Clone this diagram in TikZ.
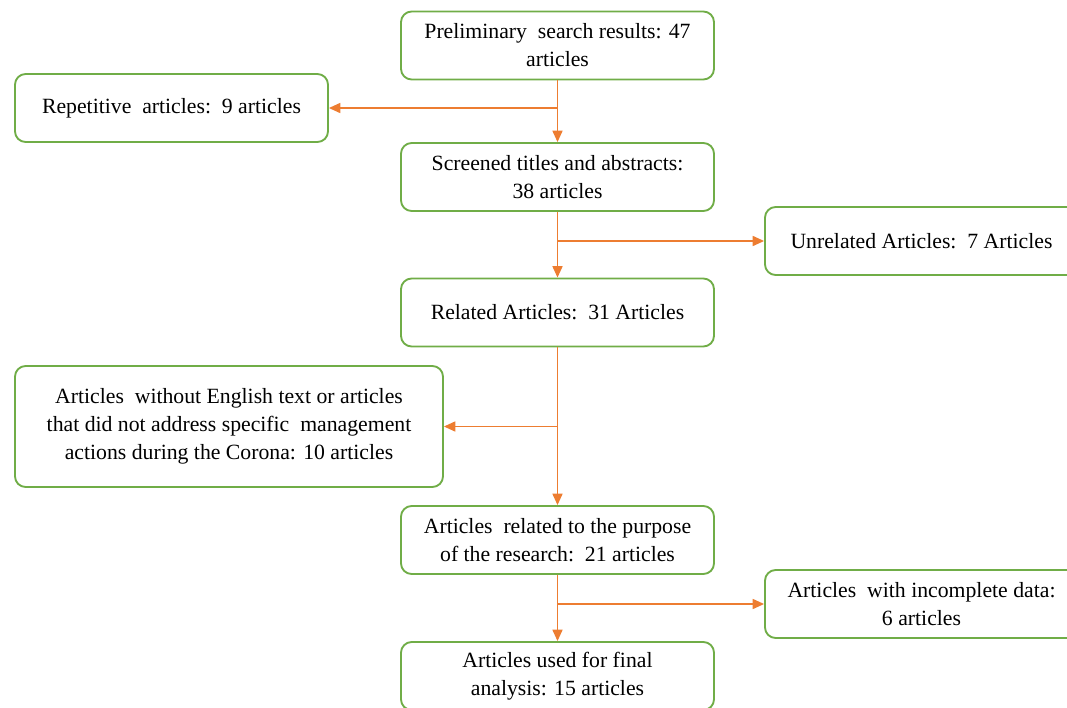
\documentclass[tikz,border=0pt]{standalone}
\usepackage{fontspec}
\setmainfont{Liberation Serif}
\usepackage{tikz}
\usetikzlibrary{arrows.meta,shapes,positioning}
\usepackage{xcolor}
\definecolor{fcgreen}{RGB}{112,173,71}
\definecolor{fcorange}{RGB}{237,125,49}
\tikzstyle{stage} = [rectangle, rounded corners=8pt, minimum width=234.75pt, minimum height=51pt, align=center, draw=fcgreen, fill=white, line width=1.4pt, font=\fontsize{16.3}{21}\selectfont, inner sep=2pt]
\tikzstyle{widestage} = [stage, minimum width=321pt, minimum height=90.75pt]
\tikzstyle{arrow} = [line width=1.1pt,-{Triangle[length=8.5pt,width=7.5pt]},color=fcorange]

\begin{document}
\begin{tikzpicture}[x=0.75pt, y=-0.75pt]
\useasboundingbox (0,0) rectangle (1067,707);
\node (prelim) [stage] at (557.5,45.5) {Preliminary\ \ search results: 47\\articles};
\node (repeat) [stage] at (171.5,108) {Repetitive\ \ articles:\ \ 9 articles};
\node (screen) [stage] at (557.5,177) {Screened titles and abstracts:\\38 articles};
\node (unrel) [stage] at (921.5,241) {Unrelated Articles:\ \ 7 Articles};
\node (related) [stage] at (557.5,312.5) {Related Articles:\ \ 31 Articles};
\node (noeng) [widestage] at (229,426.5) {Articles\ \ without English text or articles\\that did not address specific\ \ management\\actions during the Corona: 10 articles};
\node (purpose) [stage] at (557.5,540) {Articles\ \ related to the purpose\\of the research:\ \ 21 articles};
\node (incompl) [stage] at (921.5,604) {Articles\ \ with incomplete data:\\6 articles};
\node (final) [stage] at (557.5,676) {Articles used for final\\analysis: 15 articles};
% main line
\draw [arrow] (prelim) -- (screen);
\draw [arrow] (screen) -- (related);
\draw [arrow] (related) -- (purpose);
\draw [arrow] (purpose) -- (final);
% side branches
\draw [arrow] (prelim.south |- repeat.east) -- (repeat.east);
\draw [arrow] (screen.south |- unrel.west) -- (unrel.west);
\draw [arrow] (related.south |- noeng.east) -- (noeng.east);
\draw [arrow] (purpose.south |- incompl.west) -- (incompl.west);
\end{tikzpicture}
\end{document}
